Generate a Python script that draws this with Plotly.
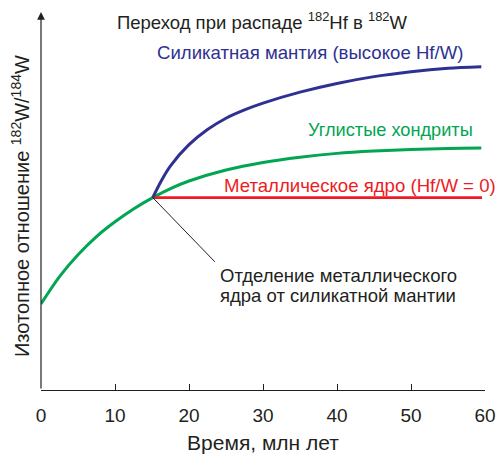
import plotly.graph_objects as go

# Time, Myr (x) and relative 182W/184W (arbitrary units, y)
green_t = [0, 2.5, 5, 7.5, 10, 12.5, 15.1, 17.5, 20, 25, 30, 35, 40, 45, 50, 55, 59.5]
green_y = [22.8, 30.0, 35.8, 40.6, 44.5, 47.9, 50.9, 53.3, 55.3, 58.2, 60.2, 61.6, 62.6, 63.2, 63.6, 63.9, 64.0]

blue_t = [15.1, 16.3, 17.5, 20, 22.5, 25, 27.5, 30, 35, 40, 45, 50, 55, 59.5]
blue_y = [50.9, 55.5, 59.3, 64.9, 68.9, 71.9, 74.1, 75.9, 78.8, 81.1, 82.9, 84.2, 85.1, 85.5]

red_t = [15.1, 59.6]
red_y = [50.9, 50.9]

x_ticks = [0, 10, 20, 30, 40, 50, 60]
x_tick_labels = ["0", "10", "20", "30", "40", "50", "60"]

split_t, split_y = 15.1, 50.9

BLUE = "#2E3192"
GREEN = "#00A651"
RED = "#ED1C24"
DARK = "#231F20"
FONT = "Liberation Sans, Arial, sans-serif"

fig = go.Figure()
fig.add_trace(go.Scatter(x=green_t, y=green_y, mode="lines",
                         line=dict(color=GREEN, width=3, shape="spline", smoothing=0.8),
                         hoverinfo="skip"))
fig.add_trace(go.Scatter(x=red_t, y=red_y, mode="lines",
                         line=dict(color=RED, width=2.6), hoverinfo="skip"))
fig.add_trace(go.Scatter(x=blue_t, y=blue_y, mode="lines",
                         line=dict(color=BLUE, width=3, shape="spline", smoothing=0.8),
                         hoverinfo="skip"))

# leader line from split point to note
fig.add_shape(type="line", x0=split_t, y0=split_y, x1=23.5, y1=33.9,
              xref="x", yref="y", line=dict(color=DARK, width=1))

annotations = [
    # y-axis with arrow
    dict(x=0, y=100, ax=0, ay=0, xref="x", yref="y", axref="x", ayref="y",
         showarrow=True, arrowhead=2, arrowsize=1.3, arrowwidth=1.2, arrowcolor=DARK, text=""),
    dict(x=29.9, y=97.6, xref="x", yref="y", showarrow=False,
         text="Переход при распаде <sup>182</sup>Hf в <sup>182</sup>W",
         font=dict(size=18.5, color=DARK, family=FONT)),
    dict(x=36.4, y=89.4, xref="x", yref="y", showarrow=False,
         text="Силикатная мантия (высокое Hf/W)",
         font=dict(size=18.6, color=BLUE, family=FONT)),
    dict(x=47.2, y=68.8, xref="x", yref="y", showarrow=False,
         text="Углистые хондриты",
         font=dict(size=18.2, color=GREEN, family=FONT)),
    dict(x=43.1, y=54.2, xref="x", yref="y", showarrow=False,
         text="Металлическое ядро (Hf/W = 0)",
         font=dict(size=18.6, color=RED, family=FONT)),
    dict(x=23.9, y=30.4, xref="x", yref="y", showarrow=False, xanchor="left",
         text="Отделение металлического",
         font=dict(size=18.5, color=DARK, family=FONT)),
    dict(x=23.9, y=24.9, xref="x", yref="y", showarrow=False, xanchor="left",
         text="ядра от силикатной мантии",
         font=dict(size=18.5, color=DARK, family=FONT)),
    dict(x=0, y=0.5, xref="paper", yref="paper", xshift=-21, yshift=-5, showarrow=False,
         textangle=-90, xanchor="center", yanchor="middle",
         text="Изотопное отношение <sup>182</sup>W/<sup>184</sup>W",
         font=dict(size=20, color=DARK, family=FONT)),
]

fig.update_layout(
    width=497, height=454,
    margin=dict(l=41, r=12, t=12, b=64, autoexpand=False),
    paper_bgcolor="white", plot_bgcolor="white",
    showlegend=False,
    annotations=annotations,
    font=dict(family=FONT, color=DARK),
    xaxis=dict(range=[0, 60], tickvals=x_ticks, ticktext=x_tick_labels,
               automargin=False,
               showline=True, linecolor=DARK, linewidth=1.2,
               ticks="inside", ticklen=6, tickcolor=DARK, tickwidth=1.2,
               ticklabelstandoff=8,
               showgrid=False, zeroline=False,
               tickfont=dict(size=19, color=DARK, family=FONT),
               title=dict(text="Время, млн лет", standoff=14,
                          font=dict(size=21, color=DARK, family=FONT))),
    yaxis=dict(range=[0, 100], showline=False, showticklabels=False, ticks="",
               automargin=False,
               showgrid=False, zeroline=False),
)

fig.write_html("out.html")
